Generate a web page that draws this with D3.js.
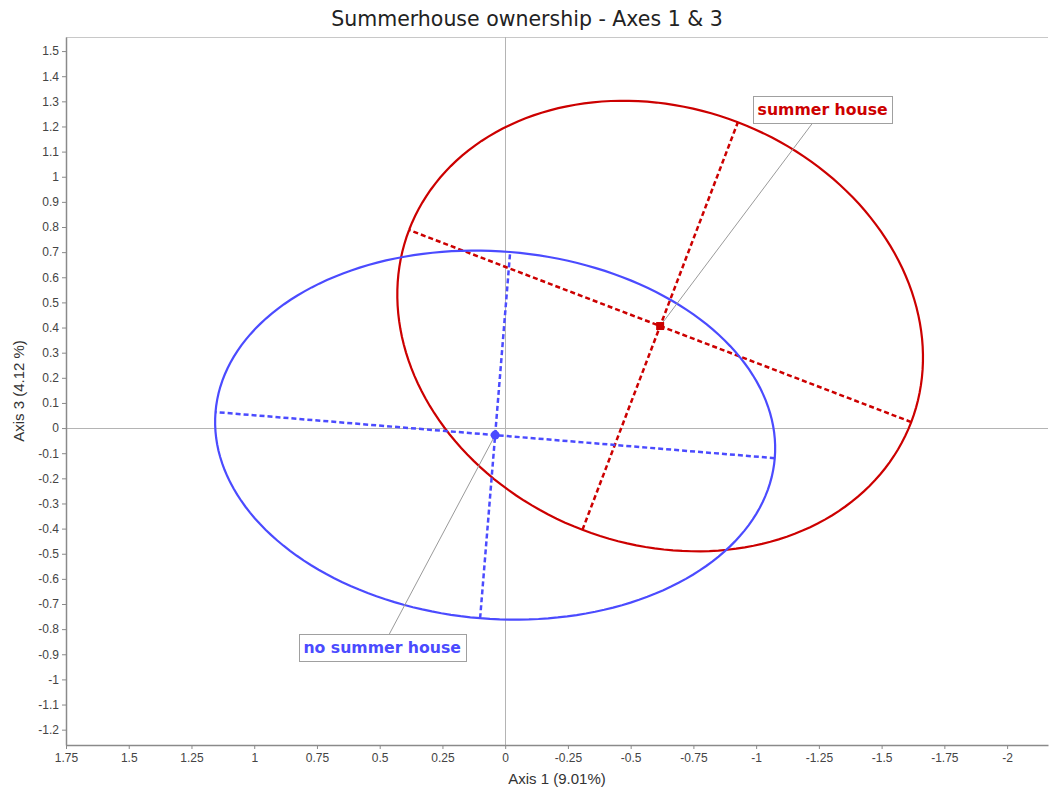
<!DOCTYPE html>
<html>
<head>
<meta charset="utf-8">
<script src="https://cdn.jsdelivr.net/npm/d3@7"></script>
<style>
	body { margin: 0; background: #fff; }
	svg { display: block; }
</style>
</head>
<body>
<svg id="chart" width="1050" height="793"></svg>
<script>
'use strict';

/* chart data */
var groups = ['summer house', 'no summer house'];
var groupColors = ['#cc0000', '#4b4bff'];
var centerX = [-0.6175, 0.04];
var centerY = [0.406, -0.028];
var semiMajor = [1.071, 1.118];
var semiMinor = [0.868, 0.731];
var angleDeg = [20.9, 4.7];
var labelX = [-1.265, 0.49];
var labelY = [1.267, -0.873];

var xTicks = [1.75, 1.5, 1.25, 1, 0.75, 0.5, 0.25, 0, -0.25, -0.5, -0.75, -1, -1.25, -1.5, -1.75, -2];
var yTicks = [1.5, 1.4, 1.3, 1.2, 1.1, 1, 0.9, 0.8, 0.7, 0.6, 0.5, 0.4, 0.3, 0.2, 0.1, 0,
	-0.1, -0.2, -0.3, -0.4, -0.5, -0.6, -0.7, -0.8, -0.9, -1, -1.1, -1.2];

var svg = d3.select('#chart');
var plotLeft = 66, plotRight = 1048, plotTop = 37, plotBottom = 745;

var x = d3.scaleLinear().domain([1.75, -2.163]).range([plotLeft, plotRight]);
var y = d3.scaleLinear().domain([-1.261, 1.556]).range([plotBottom, plotTop]);

function fmt(d) {
	return String(Math.round(d * 100) / 100);
}

/* title */
svg.append('text')
	.attr('x', 527).attr('y', 26)
	.attr('text-anchor', 'middle')
	.style('font-family', 'DejaVu Sans')
	.style('font-size', '20.5px')
	.style('fill', '#222')
	.text('Summerhouse ownership - Axes 1 & 3');

/* frame and zero lines */
svg.append('line')
	.attr('x1', plotLeft).attr('x2', plotRight).attr('y1', plotTop + 0.5).attr('y2', plotTop + 0.5)
	.style('stroke', '#c8c8c8');

svg.append('line')
	.attr('x1', Math.round(x(0)) + 0.5).attr('x2', Math.round(x(0)) + 0.5)
	.attr('y1', plotTop).attr('y2', plotBottom)
	.style('stroke', '#b4b4b4');
svg.append('line')
	.attr('x1', plotLeft).attr('x2', plotRight)
	.attr('y1', Math.round(y(0)) + 0.5).attr('y2', Math.round(y(0)) + 0.5)
	.style('stroke', '#b4b4b4');

var xAxis = svg.append('g')
	.attr('transform', 'translate(0,' + plotBottom + ')')
	.call(d3.axisBottom(x).tickValues(xTicks).tickFormat(fmt).tickSize(4).tickPadding(4).tickSizeOuter(0));
var yAxis = svg.append('g')
	.attr('transform', 'translate(' + plotLeft + ',0)')
	.call(d3.axisLeft(y).tickValues(yTicks).tickFormat(fmt).tickSize(4).tickPadding(3).tickSizeOuter(0));

[xAxis, yAxis].forEach(function(a) {
	a.select('.domain').style('stroke', '#8a8a8a').style('stroke-width', 1.5);
	a.selectAll('.tick line').style('stroke', '#8a8a8a');
	a.selectAll('.tick text')
		.style('font-family', 'Liberation Sans')
		.style('font-size', '12px')
		.style('fill', '#444');
});

/* axis titles */
svg.append('text')
	.attr('x', (plotLeft + plotRight) / 2).attr('y', 784)
	.attr('text-anchor', 'middle')
	.style('font-family', 'Liberation Sans')
	.style('font-size', '15px')
	.style('fill', '#333')
	.text('Axis 1 (9.01%)');

svg.append('text')
	.attr('transform', 'translate(24,' + (plotTop + plotBottom) / 2 + ') rotate(-90)')
	.attr('text-anchor', 'middle')
	.style('font-family', 'Liberation Sans')
	.style('font-size', '15px')
	.style('fill', '#333')
	.text('Axis 3 (4.12 %)');

/* confidence ellipses */
var line = d3.line()
	.x(function(p) { return x(p[0]); })
	.y(function(p) { return y(p[1]); });

groups.forEach(function(name, i) {
	var t = angleDeg[i] * Math.PI / 180;
	var c = Math.cos(t), s = Math.sin(t);
	var pts = d3.range(0, 361, 2).map(function(deg) {
		var u = deg * Math.PI / 180;
		var ex = semiMajor[i] * Math.cos(u), ey = semiMinor[i] * Math.sin(u);
		return [centerX[i] + ex * c - ey * s, centerY[i] + ex * s + ey * c];
	});

	svg.append('path')
		.attr('d', line(pts))
		.style('fill', 'none')
		.style('stroke', groupColors[i])
		.style('stroke-width', 2.2);

	var majorEnds = [
		[centerX[i] - semiMajor[i] * c, centerY[i] - semiMajor[i] * s],
		[centerX[i] + semiMajor[i] * c, centerY[i] + semiMajor[i] * s]
	];
	var minorEnds = [
		[centerX[i] + semiMinor[i] * s, centerY[i] - semiMinor[i] * c],
		[centerX[i] - semiMinor[i] * s, centerY[i] + semiMinor[i] * c]
	];
	[majorEnds, minorEnds].forEach(function(seg) {
		svg.append('path')
			.attr('d', line(seg))
			.style('fill', 'none')
			.style('stroke', groupColors[i])
			.style('stroke-width', 2.5)
			.style('stroke-dasharray', '5,3');
	});
});

/* labels with leader lines */
groups.forEach(function(name, i) {
	var cx = x(centerX[i]), cy = y(centerY[i]);
	var lx = x(labelX[i]), ly = y(labelY[i]);

	var g = svg.append('g');
	var leader = g.append('line')
		.style('stroke', '#9a9a9a')
		.style('stroke-width', 1);

	var box = g.append('rect')
		.style('fill', '#fff')
		.style('stroke', '#a0a0a0');
	var txt = g.append('text')
		.attr('x', lx).attr('y', ly)
		.attr('text-anchor', 'middle')
		.attr('dominant-baseline', 'central')
		.style('font-family', 'DejaVu Sans')
		.style('font-weight', 'bold')
		.style('font-size', '15.7px')
		.style('fill', groupColors[i])
		.text(name);

	var w = txt.node().getComputedTextLength() + 9;
	var h = 27;
	box.attr('x', Math.round(lx - w / 2) + 0.5).attr('y', Math.round(ly - h / 2) + 0.5)
		.attr('width', Math.round(w)).attr('height', h);

	// leader line stops at the box edge facing the centre
	var dy = ly - cy, dx = lx - cx;
	var tt = 1 - (h / 2) / Math.abs(dy);
	leader.attr('x1', cx).attr('y1', cy).attr('x2', cx + dx * tt).attr('y2', cy + dy * tt);

	if (i === 0) {
		svg.append('rect')
			.attr('x', cx - 4).attr('y', cy - 4)
			.attr('width', 8).attr('height', 8)
			.style('fill', groupColors[i]);
	} else {
		svg.append('circle')
			.attr('cx', cx).attr('cy', cy).attr('r', 4.5)
			.style('fill', groupColors[i]);
	}
});
</script>
</body>
</html>
